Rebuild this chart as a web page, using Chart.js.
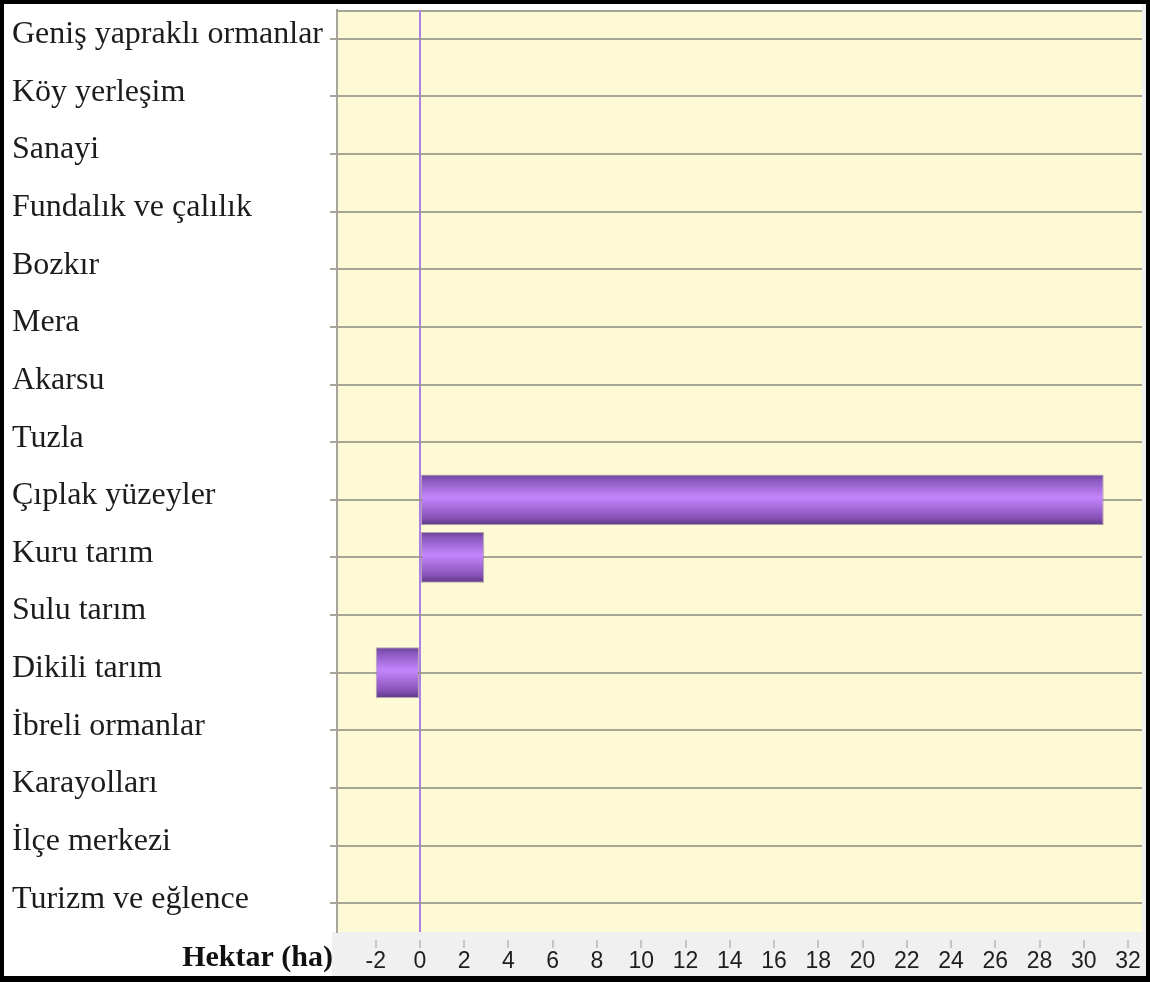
<!DOCTYPE html>
<html>
<head>
<meta charset="utf-8">
<title>Arazi örtüsü değişimi (ha)</title>
<script src="https://cdn.jsdelivr.net/npm/chart.js@4/dist/chart.umd.min.js"></script>
<style>
  html, body { margin: 0; padding: 0; background: #ffffff; }
  #frame {
    width: 1150px; height: 982px; box-sizing: border-box;
    border-style: solid; border-color: #000;
    border-width: 4px 4px 6px 4px;
    background: #ffffff;
  }
  canvas { display: block; }
</style>
</head>
<body>
<div id="frame"><canvas id="chart" width="1142" height="972"></canvas></div>
<script>
// Land-cover classes, top to bottom
const categories = [
  "Geniş yapraklı ormanlar",
  "Köy yerleşim",
  "Sanayi",
  "Fundalık ve çalılık",
  "Bozkır",
  "Mera",
  "Akarsu",
  "Tuzla",
  "Çıplak yüzeyler",
  "Kuru tarım",
  "Sulu tarım",
  "Dikili tarım",
  "İbreli ormanlar",
  "Karayolları",
  "İlçe merkezi",
  "Turizm ve eğlence"
];

// Area change per class, hectares
const changeHa = [0, 0, 0, 0, 0, 0, 0, 0, 30.9, 2.9, 0, -2.0, 0, 0, 0, 0];

// Value-axis tick labels
const xTickValues = [-2, 0, 2, 4, 6, 8, 10, 12, 14, 16, 18, 20, 22, 24, 26, 28, 30, 32];

const axisTitle = "Hektar (ha)";

const BAR_FRACTION = 0.88;

// Cylinder-like vertical shading for each bar
function barGradient(ctx) {
  const chart = ctx.chart;
  const y = chart.scales.y;
  if (!chart.chartArea || !y) return "#a06ad8";
  const c = y.getPixelForValue(ctx.dataIndex);
  const half = (y.height / categories.length) * BAR_FRACTION / 2;
  const g = chart.ctx.createLinearGradient(0, c - half, 0, c + half);
  g.addColorStop(0, "#6c4396");
  g.addColorStop(0.12, "#8a59bf");
  g.addColorStop(0.45, "#c586fd");
  g.addColorStop(0.85, "#8753b8");
  g.addColorStop(1, "#5c3785");
  return g;
}

// Plot background, outer grey bands, top rule and the axis caption
const frameDecor = {
  id: "frameDecor",
  beforeDraw(chart) {
    const { ctx, chartArea: a, width, height } = chart;
    ctx.save();
    ctx.fillStyle = "#f0f0f0";
    ctx.fillRect(a.left - 5, a.bottom, width - (a.left - 5), height - a.bottom);
    ctx.fillRect(a.right, 0, width - a.right, height);
    ctx.fillStyle = "#fefad6";
    ctx.fillRect(a.left, a.top, a.right - a.left, a.bottom - a.top);
    ctx.strokeStyle = "rgba(150,150,140,0.85)";
    ctx.lineWidth = 2;
    ctx.beginPath();
    ctx.moveTo(a.left, a.top + 1);
    ctx.lineTo(a.right, a.top + 1);
    ctx.stroke();
    ctx.restore();
  },
  afterDraw(chart) {
    const { ctx, chartArea: a } = chart;
    ctx.save();
    ctx.font = "bold 30px 'Liberation Serif', 'Times New Roman', serif";
    ctx.fillStyle = "#111";
    ctx.textAlign = "right";
    ctx.textBaseline = "alphabetic";
    ctx.fillText(axisTitle, a.left - 4, a.bottom + 34);
    ctx.restore();
  }
};

new Chart(document.getElementById("chart"), {
  type: "bar",
  data: {
    labels: categories,
    datasets: [{
      data: changeHa,
      backgroundColor: barGradient,
      borderColor: "rgba(120,100,140,0.55)",
      borderWidth: 1,
      borderSkipped: false,
      barPercentage: BAR_FRACTION,
      categoryPercentage: 1
    }]
  },
  options: {
    indexAxis: "y",
    responsive: false,
    devicePixelRatio: 1,
    animation: false,
    layout: { padding: { top: 6, right: 4, left: 8, bottom: 0 } },
    plugins: {
      legend: { display: false },
      tooltip: { enabled: false }
    },
    scales: {
      x: {
        type: "linear",
        min: -3.75,
        max: 32.63,
        afterBuildTicks(scale) {
          scale.ticks = xTickValues.map(v => ({ value: v }));
        },
        afterFit(scale) {
          scale.height = 44;
          scale.paddingLeft = 0;
          scale.paddingRight = 0;
        },
        border: { display: false },
        grid: {
          drawOnChartArea: true,
          color: c => (c.tick && c.tick.value === 0) ? "#b07ee6" : "rgba(0,0,0,0)",
          lineWidth: c => (c.tick && c.tick.value === 0) ? 2 : 0,
          tickColor: "#9a9a9a",
          tickWidth: 1,
          tickLength: 16,
          tickBorderDash: [0, 8, 8, 0]
        },
        ticks: {
          autoSkip: false,
          maxRotation: 0,
          padding: 0,
          color: "#1e1e1e",
          font: { family: "'Liberation Sans', Arial, sans-serif", size: 23 },
          callback: v => String(v)
        }
      },
      y: {
        type: "category",
        offset: true,
        afterFit(scale) {
          scale.width = 325;
          scale.paddingTop = 0;
          scale.paddingBottom = 0;
        },
        border: { display: true, color: "rgba(150,150,140,0.85)", width: 2 },
        grid: {
          offset: false,
          color: "rgba(150,150,140,0.85)",
          lineWidth: 2,
          tickLength: 7
        },
        ticks: {
          autoSkip: false,
          crossAlign: "far",
          labelOffset: -4,
          color: "#1c1c1c",
          font: { family: "'Liberation Serif', 'Times New Roman', serif", size: 32 }
        }
      }
    }
  },
  plugins: [frameDecor]
});
</script>
</body>
</html>
